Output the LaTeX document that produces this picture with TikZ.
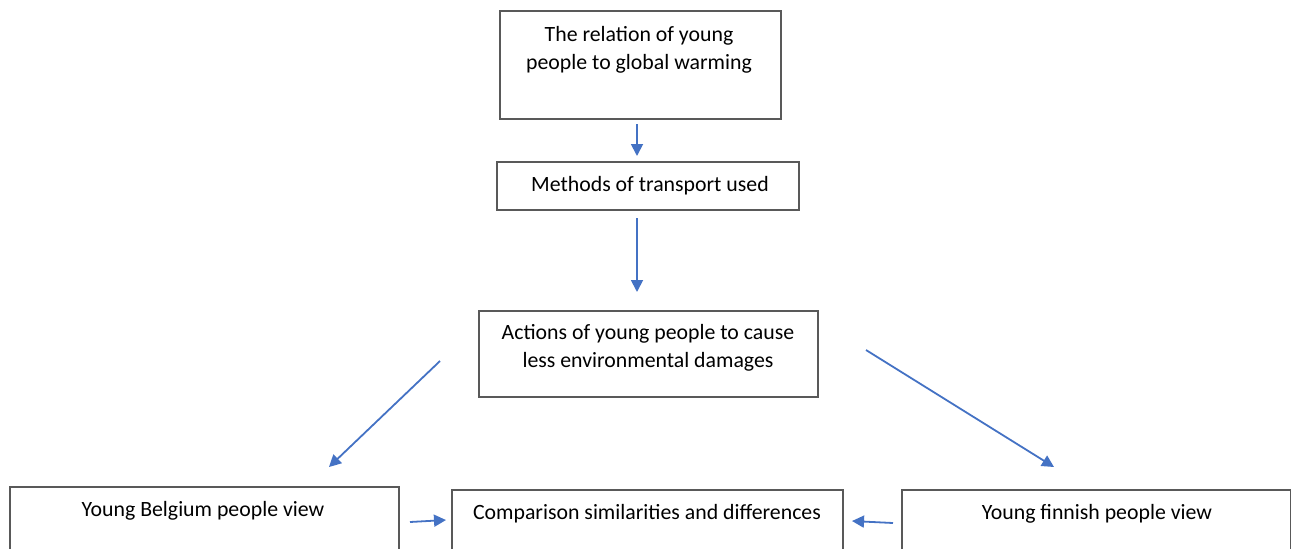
\documentclass[tikz,border=0pt]{standalone}
\usepackage{fontspec}
\setmainfont{Carlito}
\usetikzlibrary{arrows.meta}
\definecolor{arrowblue}{HTML}{4472C4}
\definecolor{boxgray}{HTML}{595959}
\begin{document}
\begin{tikzpicture}[x=0.5pt,y=-0.5pt,
  boxst/.style={draw=boxgray,line width=0.75pt,rectangle,inner sep=0pt,anchor=north west},
  txt/.style={font=\fontsize{10.9}{13.8}\selectfont,text=black,inner sep=0pt,align=center},
  arr/.style={draw=arrowblue,line width=0.9pt,-{Triangle[width=6pt,length=6pt]}}]
\useasboundingbox (0,0) rectangle (1291,548);
\clip (0,0) rectangle (1291,548);
% boxes
\node[boxst,minimum width=140.5pt,minimum height=54pt] (b1) at (499,10) {};
\node[boxst,minimum width=151pt,minimum height=24pt] (b2) at (496,161) {};
\node[boxst,minimum width=169.5pt,minimum height=43pt] (b3) at (478,310) {};
\node[boxst,minimum width=194.5pt,minimum height=50pt] (b4) at (9,486) {};
\node[boxst,minimum width=195.5pt,minimum height=50pt] (b5) at (451,489) {};
\node[boxst,minimum width=194.5pt,minimum height=50pt] (b6) at (901,489) {};
% texts
\node[txt] (t1) at (639,49.5) {The relation of young\\people to global warming};
\node[txt] (t2) at (650,186) {Methods of transport used};
\node[txt] (t3) at (648,348) {Actions of young people to cause\\less environmental damages};
\node[txt] (t4) at (203,510.5) {Young Belgium people view};
\node[txt] (t5) at (647,513.5) {Comparison similarities and differences};
\node[txt] (t6) at (1097,513.5) {Young finnish people view};
% arrow end points
\coordinate (a1s) at (637,124); \coordinate (a1e) at (637,156);
\coordinate (a2s) at (637,218); \coordinate (a2e) at (637,292);
\coordinate (a3s) at (440,361); \coordinate (a3e) at (329,467);
\coordinate (a4s) at (866,350); \coordinate (a4e) at (1054,467);
\coordinate (a5s) at (410,522); \coordinate (a5e) at (446,520);
\coordinate (a6s) at (893,523); \coordinate (a6e) at (852,521);
\draw[arr] (a1s) -- (a1e);
\draw[arr] (a2s) -- (a2e);
\draw[arr] (a3s) -- (a3e);
\draw[arr] (a4s) -- (a4e);
\draw[arr] (a5s) -- (a5e);
\draw[arr] (a6s) -- (a6e);
\end{tikzpicture}
\end{document}
